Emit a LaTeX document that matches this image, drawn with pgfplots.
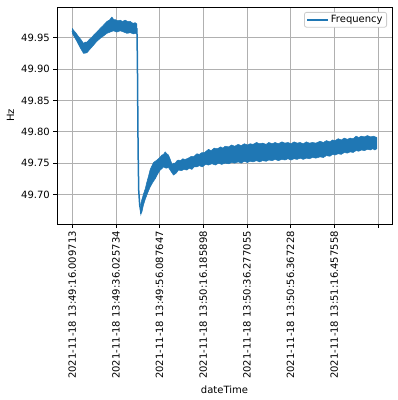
\documentclass[border=0pt]{standalone}
\usepackage{pgfplots}
\pgfplotsset{compat=1.18}
\usepackage{fontspec}
\setmainfont{DejaVu Sans}
\definecolor{tabblue}{RGB}{31,119,180}
\definecolor{gridgray}{RGB}{176,176,176}
\definecolor{leggray}{RGB}{204,204,204}
\begin{document}
\begin{tikzpicture}[font=\fontsize{10bp}{12bp}\selectfont]
\begin{axis}[
  at={(0,0)}, anchor=south west,
  scale only axis, width=335bp, height=217bp,
  xmin=-0.349, xmax=7.322, ymin=49.653, ymax=49.999,
  xtick={0,1,2,3,4,5,6,7},
  xticklabels={2021-11-18 13:49:16.009713,2021-11-18 13:49:36.025734,2021-11-18 13:49:56.087647,2021-11-18 13:50:16.185898,2021-11-18 13:50:36.277055,2021-11-18 13:50:56.367228,2021-11-18 13:51:16.457558,{}},
  ytick={49.70,49.75,49.80,49.85,49.90,49.95},
  yticklabel style={/pgf/number format/fixed, /pgf/number format/fixed zerofill, /pgf/number format/precision=2},
  /pgf/number format/assume math mode=true,
  xticklabel style={rotate=90, anchor=east, inner sep=3.5bp},
  yticklabel style={inner sep=3.5bp},
  tick align=outside, tick pos=left, major tick length=3.5bp,
  every tick/.style={black, line width=0.8bp},
  grid=major, major grid style={gridgray, line width=0.8bp},
  axis line style={line width=0.8bp},
  xlabel={dateTime}, ylabel={Hz},
  legend style={at={(1,1)}, anchor=north east, xshift=-5bp, yshift=-5bp, draw=leggray, line width=0.8bp, rounded corners=2bp, inner xsep=2bp, inner ysep=1bp},
  legend image code/.code={\draw[#1] (0bp,0bp) -- (21bp,0bp);},
  legend cell align=left,
]
% band before the drop (upper edge then lower edge)
\addplot[forget plot, draw=tabblue, line width=0.5bp, fill=tabblue] coordinates {
(0.000,49.965) (0.030,49.962) (0.080,49.958) (0.144,49.952) (0.200,49.947) (0.259,49.941)
(0.300,49.943) (0.336,49.943) (0.400,49.948) (0.440,49.950) (0.487,49.954) (0.560,49.959)
(0.641,49.965) (0.700,49.969) (0.794,49.976) (0.850,49.978) (0.908,49.983) (0.950,49.979)
(0.984,49.979) (1.040,49.977) (1.098,49.978) (1.150,49.976) (1.213,49.978) (1.270,49.976)
(1.327,49.976) (1.390,49.973) (1.442,49.974) (1.481,49.972)
(1.481,49.956) (1.440,49.957) (1.403,49.956) (1.330,49.958) (1.252,49.957) (1.180,49.959)
(1.098,49.961) (1.020,49.959) (0.945,49.961) (0.870,49.959) (0.794,49.957) (0.720,49.953)
(0.641,49.949) (0.560,49.944) (0.487,49.938) (0.410,49.932) (0.336,49.926) (0.259,49.925)
(0.190,49.933) (0.108,49.944) (0.050,49.951) (0.000,49.957)
};
% band after the drop
\addplot[forget plot, draw=tabblue, line width=0.5bp, fill=tabblue] coordinates {
(1.561,49.683) (1.590,49.691) (1.632,49.701) (1.670,49.709) (1.709,49.720) (1.745,49.729)
(1.785,49.740) (1.820,49.745) (1.860,49.751) (1.900,49.753) (1.938,49.755) (1.990,49.758)
(2.053,49.763) (2.090,49.764) (2.128,49.768) (2.165,49.765) (2.204,49.763) (2.250,49.755)
(2.288,49.748) (2.320,49.750) (2.357,49.750) (2.400,49.754) (2.433,49.755) (2.480,49.754)
(2.530,49.757) (2.580,49.756) (2.625,49.757) (2.680,49.759) (2.730,49.761) (2.790,49.761)
(2.854,49.765) (2.910,49.764) (2.970,49.767) (3.030,49.767) (3.119,49.772) (3.180,49.770)
(3.250,49.774) (3.320,49.773) (3.400,49.776) (3.450,49.774) (3.501,49.777) (3.580,49.776)
(3.650,49.779) (3.720,49.777) (3.800,49.780) (3.870,49.778) (3.940,49.781) (4.010,49.779)
(4.073,49.781) (4.140,49.780) (4.220,49.783) (4.290,49.781) (4.360,49.782) (4.440,49.780)
(4.500,49.783) (4.580,49.781) (4.645,49.783) (4.720,49.781) (4.800,49.784) (4.870,49.782)
(4.940,49.783) (5.010,49.781) (5.080,49.784) (5.150,49.782) (5.217,49.783) (5.290,49.781)
(5.360,49.784) (5.430,49.782) (5.500,49.783) (5.580,49.782) (5.675,49.785) (5.750,49.783)
(5.820,49.786) (5.900,49.784) (5.960,49.787) (6.018,49.786) (6.090,49.789) (6.160,49.787)
(6.230,49.790) (6.300,49.788) (6.362,49.790) (6.430,49.789) (6.500,49.793) (6.560,49.791)
(6.620,49.793) (6.690,49.792) (6.760,49.794) (6.830,49.792) (6.900,49.793) (6.973,49.791)
(6.973,49.773) (6.930,49.771) (6.880,49.773) (6.830,49.771) (6.760,49.772) (6.690,49.770)
(6.620,49.771) (6.560,49.769) (6.500,49.770) (6.430,49.767) (6.362,49.768) (6.300,49.766)
(6.230,49.767) (6.160,49.764) (6.090,49.765) (6.018,49.763) (5.960,49.764) (5.900,49.761)
(5.820,49.762) (5.750,49.759) (5.675,49.760) (5.580,49.758) (5.500,49.759) (5.430,49.757)
(5.360,49.758) (5.290,49.756) (5.217,49.758) (5.150,49.756) (5.080,49.757) (5.010,49.755)
(4.940,49.757) (4.870,49.755) (4.800,49.756) (4.720,49.754) (4.645,49.756) (4.580,49.754)
(4.500,49.755) (4.440,49.753) (4.360,49.754) (4.290,49.752) (4.220,49.754) (4.140,49.752)
(4.073,49.753) (4.010,49.751) (3.940,49.753) (3.870,49.750) (3.800,49.752) (3.720,49.750)
(3.650,49.751) (3.580,49.749) (3.501,49.750) (3.420,49.748) (3.350,49.750) (3.280,49.747)
(3.200,49.749) (3.119,49.747) (3.050,49.748) (2.980,49.744) (2.910,49.746) (2.854,49.744)
(2.790,49.744) (2.740,49.740) (2.680,49.742) (2.625,49.739) (2.560,49.740) (2.500,49.738)
(2.433,49.739) (2.380,49.734) (2.319,49.731) (2.260,49.737) (2.204,49.743) (2.150,49.742)
(2.089,49.744) (2.050,49.741) (2.014,49.739) (1.960,49.733) (1.899,49.725) (1.850,49.720)
(1.785,49.712) (1.730,49.703) (1.670,49.692) (1.630,49.683) (1.595,49.672) (1.572,49.6695)
(1.556,49.670)
};
% centre line of the signal, including the drop
\addplot[tabblue, line width=1.5bp] coordinates {
(0.000,49.961) (0.108,49.9495) (0.259,49.933) (0.336,49.935) (0.487,49.946) (0.641,49.957)
(0.794,49.966) (0.908,49.9715) (1.098,49.970) (1.327,49.966) (1.481,49.964)
(1.492,49.914) (1.499,49.850) (1.508,49.771) (1.522,49.707) (1.545,49.683) (1.572,49.672)
(1.632,49.692) (1.709,49.710) (1.785,49.727) (1.938,49.745) (2.053,49.752) (2.128,49.756)
(2.204,49.754) (2.300,49.740) (2.433,49.747) (2.625,49.749) (2.854,49.756) (3.119,49.762)
(4.073,49.768) (5.217,49.771) (6.018,49.776) (6.590,49.781) (6.973,49.783)
};
\addlegendentry{Frequency}
\end{axis}
\pgfresetboundingbox
\path[use as bounding box] (-57bp,-176bp) rectangle (341bp,224bp);
\end{tikzpicture}
\end{document}
